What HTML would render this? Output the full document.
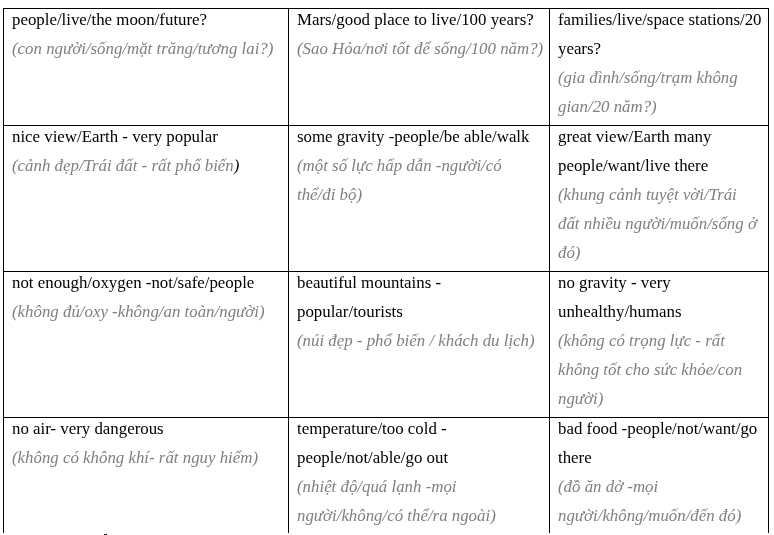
<!DOCTYPE html>
<html><head><meta charset="utf-8"><title>table</title>
<style>
html,body{margin:0;padding:0;background:#fff;}
body{width:774px;height:535px;position:relative;overflow:hidden;font-family:"Liberation Serif","Times New Roman",serif;font-size:16.85px;line-height:29px;color:#000;}
.c{position:absolute;white-space:nowrap;}
.c i{color:#7f7f7f;font-style:italic;}
.c i.b{color:#000;}
.h,.v{position:absolute;background:#000;}
.h{height:1px;left:3px;width:766px;}
.v{width:1px;top:8px;height:525px;}
</style></head><body>
<div class="h" style="top:8px"></div><div class="h" style="top:125px"></div><div class="h" style="top:271px"></div><div class="h" style="top:417px"></div><div class="v" style="left:3px"></div><div class="v" style="left:288px"></div><div class="v" style="left:549px"></div><div class="v" style="left:768px"></div><div style="position:absolute;left:104px;top:534px;width:3px;height:1px;background:#222"></div>
<div class="c" style="left:12px;top:5px">people/live/the moon/future?<br><i>(con người/sống/mặt trăng/tương lai?)</i></div>
<div class="c" style="left:297px;top:5px">Mars/good place to live/100 years?<br><i>(Sao Hỏa/nơi tốt để sống/100 năm?)</i></div>
<div class="c" style="left:558px;top:5px">families/live/space stations/20<br>years?<br><i>(gia đình/sống/trạm không</i><br><i>gian/20 năm?)</i></div>
<div class="c" style="left:12px;top:122px">nice view/Earth - very popular<br><i>(cảnh đẹp/Trái đất - rất phổ biến</i><i class=b>)</i></div>
<div class="c" style="left:297px;top:122px">some gravity -people/be able/walk<br><i>(một số lực hấp dẫn -người/có</i><br><i>thể/đi bộ)</i></div>
<div class="c" style="left:558px;top:122px">great view/Earth many<br>people/want/live there<br><i>(khung cảnh tuyệt vời/Trái</i><br><i>đất nhiều người/muốn/sống ở</i><br><i>đó)</i></div>
<div class="c" style="left:12px;top:268px">not enough/oxygen -not/safe/people<br><i>(không đủ/oxy -không/an toàn/người)</i></div>
<div class="c" style="left:297px;top:268px">beautiful mountains -<br>popular/tourists<br><i>(núi đẹp - phổ biến / khách du lịch)</i></div>
<div class="c" style="left:558px;top:268px">no gravity - very<br>unhealthy/humans<br><i>(không có trọng lực - rất</i><br><i>không tốt cho sức khỏe/con</i><br><i>người)</i></div>
<div class="c" style="left:12px;top:414px">no air- very dangerous<br><i>(không có không khí- rất nguy hiểm)</i></div>
<div class="c" style="left:297px;top:414px">temperature/too cold -<br>people/not/able/go out<br><i>(nhiệt độ/quá lạnh -mọi</i><br><i>người/không/có thể/ra ngoài)</i></div>
<div class="c" style="left:558px;top:414px">bad food -people/not/want/go<br>there<br><i>(đồ ăn dở -mọi</i><br><i>người/không/muốn/đến đó)</i></div>
</body></html>
